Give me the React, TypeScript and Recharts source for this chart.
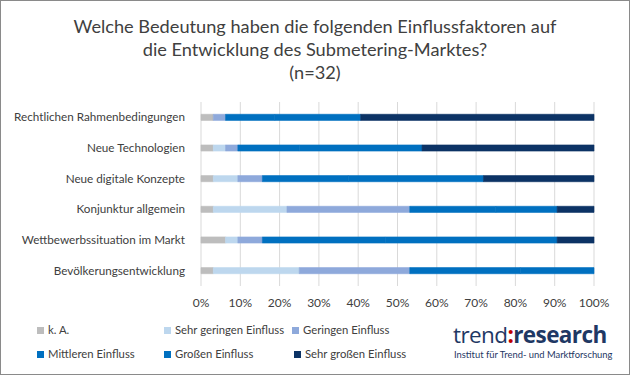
import React from "react";
import { BarChart, Bar, XAxis, YAxis, CartesianGrid } from "recharts";

const categories = [
  "Rechtlichen Rahmenbedingungen",
  "Neue Technologien",
  "Neue digitale Konzepte",
  "Konjunktur allgemein",
  "Wettbewerbssituation im Markt",
  "Bevölkerungsentwicklung",
];
// counts out of n=32
const kA = [1, 1, 1, 1, 2, 1];
const sehrGering = [0, 1, 2, 6, 1, 7];
const gering = [1, 1, 2, 10, 2, 9];
const mittleren = [4, 5, 7, 7, 10, 9];
const grossen = [7, 10, 11, 5, 14, 6];
const sehrGross = [19, 14, 9, 3, 3, 0];
const N = 32;
const xTicks = [0, 10, 20, 30, 40, 50, 60, 70, 80, 90, 100];

const seriesDefs = [
  { key: "ka", name: "k. A.", values: kA, color: "#BDBDBD" },
  { key: "sg", name: "Sehr geringen Einfluss", values: sehrGering, color: "#BDD7EE" },
  { key: "g", name: "Geringen Einfluss", values: gering, color: "#8EA9DB" },
  { key: "m", name: "Mittleren Einfluss", values: mittleren, color: "#0070C0" },
  { key: "gr", name: "Großen Einfluss", values: grossen, color: "#0070C0" },
  { key: "sgr", name: "Sehr großen Einfluss", values: sehrGross, color: "#0C3365" },
];

const data = categories.map((c, i) => {
  const row: any = { name: c };
  seriesDefs.forEach((s) => {
    row[s.key] = (s.values[i] / N) * 100;
  });
  return row;
});

const FONT = "Lato, 'Open Sans', sans-serif";
const TEXT = "#404040";

const legendPos = [
  { left: 36, top: 322 },
  { left: 163, top: 322 },
  { left: 291, top: 322 },
  { left: 36, top: 346 },
  { left: 163, top: 346 },
  { left: 293, top: 346 },
];

const YTick = (props: any) => {
  const { x, y, payload } = props;
  return (
    <text x={x} y={y} dy={4} textAnchor="end" fill={TEXT} fontSize={11.7} fontFamily={FONT}>
      {payload.value}
    </text>
  );
};

export default function App() {
  return (
    <div
      style={{
        position: "absolute",
        left: 0,
        top: 0,
        width: 630,
        height: 375,
        boxSizing: "border-box",
        border: "1px solid #8a8a8a",
        background: "#fff",
        fontFamily: FONT,
        color: TEXT,
        overflow: "hidden",
      }}
    >
      <div
        style={{
          position: "absolute",
          left: 0,
          top: 14,
          width: 628,
          textAlign: "center",
          fontSize: 18.2,
          lineHeight: "23px",
          color: TEXT,
        }}
      >
        <div>Welche Bedeutung haben die folgenden Einflussfaktoren auf</div>
        <div>die Entwicklung des Submetering-Marktes?</div>
        <div>(n=32)</div>
      </div>
      <div style={{ position: "absolute", left: -1, top: -1 }}>
        <BarChart
          width={630}
          height={375}
          data={data}
          layout="vertical"
          margin={{ top: 102, right: 36, bottom: 69, left: 0 }}
          barCategoryGap="60%"
        >
          <CartesianGrid horizontal={false} stroke="#d9d9d9" />
          <XAxis
            type="number"
            domain={[0, 100]}
            ticks={xTicks}
            tickFormatter={(v: number) => `${v}%`}
            axisLine={false}
            tickLine={false}
            height={20}
            tick={{ fill: TEXT, fontSize: 12, fontFamily: FONT }}
            tickMargin={6}
          />
          <YAxis
            type="category"
            dataKey="name"
            width={201}
            axisLine={false}
            tickLine={false}
            tick={<YTick />}
            tickMargin={10}
          />
          {seriesDefs.map((s) => (
            <Bar
              key={s.key}
              dataKey={s.key}
              name={s.name}
              stackId="a"
              fill={s.color}
              stroke={s.color}
              strokeWidth={0.6}
              isAnimationActive={false}
            />
          ))}
        </BarChart>
      </div>
      {seriesDefs.map((s, i) => (
        <div
          key={s.key}
          style={{
            position: "absolute",
            left: legendPos[i].left,
            top: legendPos[i].top,
            fontSize: 11.3,
            lineHeight: "14px",
            display: "flex",
            alignItems: "center",
            whiteSpace: "nowrap",
          }}
        >
          <span
            style={{ display: "inline-block", width: 7, height: 7, background: s.color, marginRight: 4 }}
          />
          {s.name}
        </div>
      ))}
      <div style={{ position: "absolute", left: 452, top: 320, whiteSpace: "nowrap" }}>
        <div
          style={{
            fontSize: 22.5,
            lineHeight: "27px",
            color: "#1F3864",
            letterSpacing: -0.6,
            fontFamily: "'Open Sans', sans-serif",
          }}
        >
          <span style={{ fontWeight: 400 }}>trend</span>
          <span style={{ color: "#C00000", fontWeight: 700 }}>:</span>
          <span style={{ fontWeight: 700 }}>research</span>
        </div>
        <div style={{ fontSize: 9.4, lineHeight: "12px", color: "#1F3864", marginLeft: 1, marginTop: 1 }}>
          Institut für Trend- und Marktforschung
        </div>
      </div>
    </div>
  );
}
